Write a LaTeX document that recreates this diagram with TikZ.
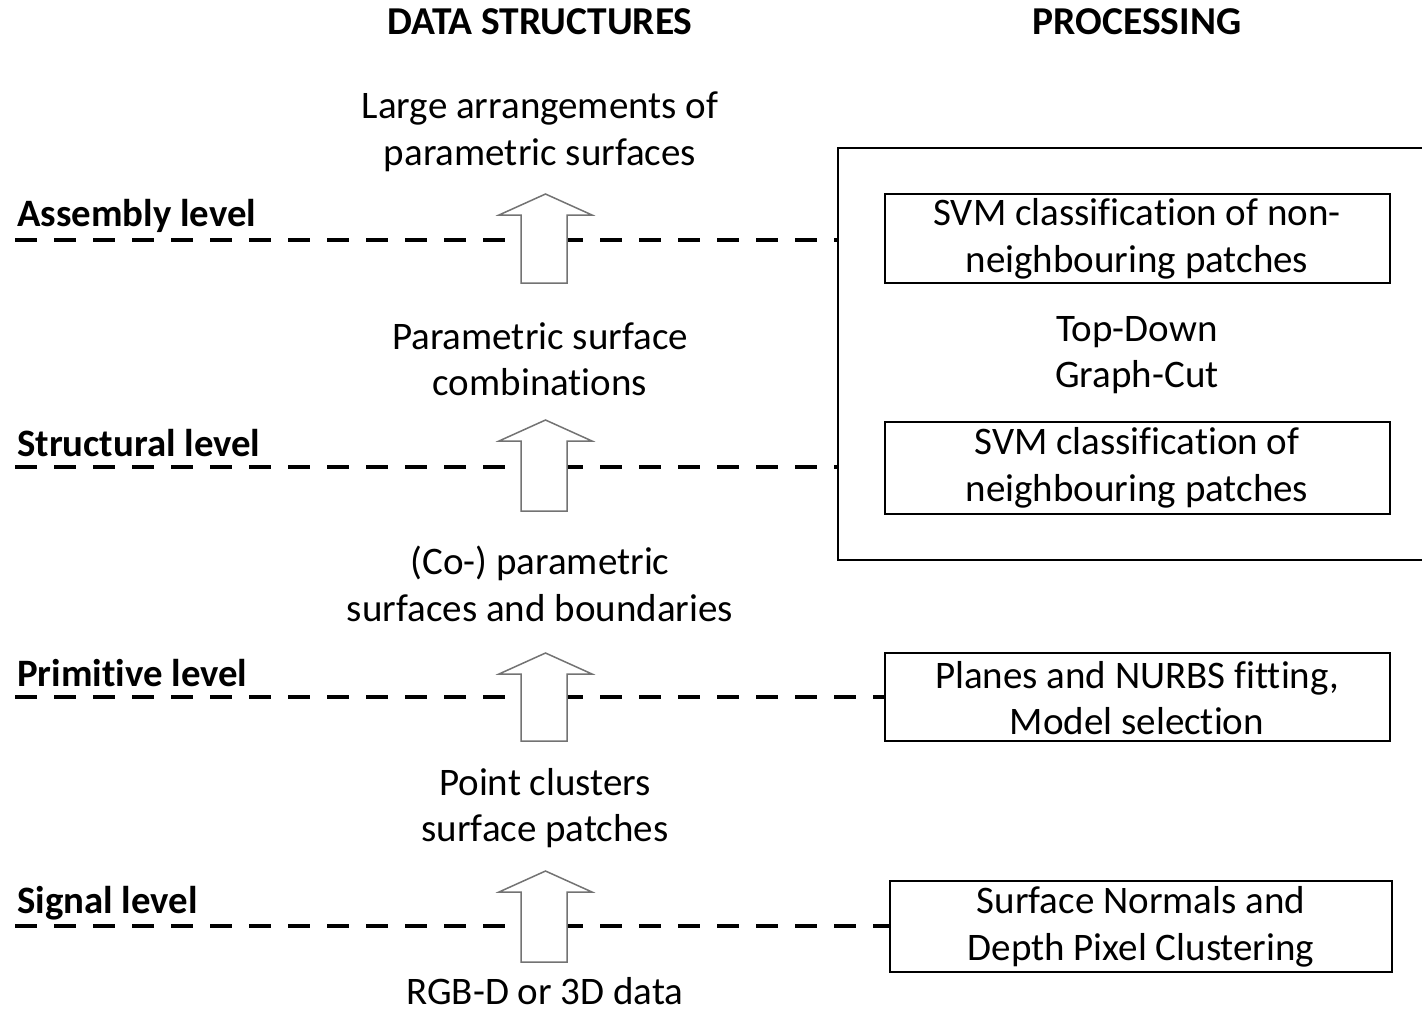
\documentclass[tikz,border=0pt]{standalone}
\usepackage{fontspec}
\setmainfont{Carlito}[Ligatures=NoCommon]
\begin{document}
\begin{tikzpicture}[x=1pt,y=-1pt,
  txt/.style={font=\fontsize{39}{46.5}\selectfont, align=center, inner sep=0pt},
  hdr/.style={font=\fontsize{39.5}{46}\selectfont\bfseries, inner sep=0pt},
  lvl/.style={font=\fontsize{38.8}{46}\selectfont\bfseries, inner sep=0pt, anchor=west},
  pbox/.style={draw, line width=2pt},
  lvline/.style={line width=4pt, dash pattern=on 22pt off 17pt},
  blk/.style={draw=black!55, fill=white, line width=1.5pt}
]
\useasboundingbox (0,0) rectangle (1422,1010);

% headers
\node[hdr] (h1) at (540,22) {DATA STRUCTURES};
\node[hdr] (h2) at (1137,22) {PROCESSING};

% level labels
\node[lvl] (l1) at (17,216) {Assembly level};
\node[lvl] (l2) at (17,443) {Structural level};
\node[lvl] (l3) at (17,673) {Primitive level};
\node[lvl] (l4) at (17,903) {Signal level};

% processing boxes
\draw[line width=2pt] (1430,148) -- (838,148) coordinate (bigTL) -- (838,560) coordinate (bigBL) -- (1430,560);
\coordinate (bigA) at (838,240);
\coordinate (bigS) at (838,467);

\draw[pbox] (885,194) rectangle (1390,283);
\node[txt] (p1) at (1137,239) {SVM classification of non-\\neighbouring patches};
\node[txt] (td) at (1137,355) {Top-Down\\Graph-Cut};
\draw[pbox] (885,422) rectangle (1390,514);
\node[txt] (p2) at (1137,468) {SVM classification of\\neighbouring patches};
\draw[pbox] (885,653) rectangle (1390,741);
\coordinate (p3w) at (885,697);
\node[txt] (p3) at (1137,698) {Planes and NURBS fitting,\\Model selection};
\draw[pbox] (890,881) rectangle (1392,972);
\coordinate (p4w) at (890,926);
\node[txt] (p4) at (1141,927) {Surface Normals and\\Depth Pixel Clustering};

% dashed level lines
\coordinate (s1) at (15,240);
\coordinate (s2) at (15,467);
\coordinate (s3) at (15,697);
\coordinate (s4) at (15,926);
\draw[lvline] (s1) -- (bigA);
\draw[lvline] (s2) -- (bigS);
\draw[lvline] (s3) -- (p3w);
\draw[lvline] (s4) -- (p4w);

% data structure texts
\node[txt] (d1) at (540,132) {Large arrangements of\\parametric surfaces};
\node[txt] (d2) at (540,359) {Parametric surface\\combinations};
\node[txt] (d3) at (540,584) {(Co-) parametric\\surfaces and boundaries};
\node[txt] (d4) at (545,808) {Point clusters\\surface patches};
\node[font=\fontsize{39}{46.5}\selectfont, inner sep=0pt, anchor=base] (d5) at (545,1004) {RGB-D or 3D data};

% block arrows
\foreach \t/\b in {194/283, 420/511, 653/741, 871/962}{
  \draw[blk] (545.5,\t) -- (592,\t+21) -- (567,\t+21) -- (567,\b) -- (521,\b) -- (521,\t+21) -- (499,\t+21) -- cycle;
}
\end{tikzpicture}
\end{document}
